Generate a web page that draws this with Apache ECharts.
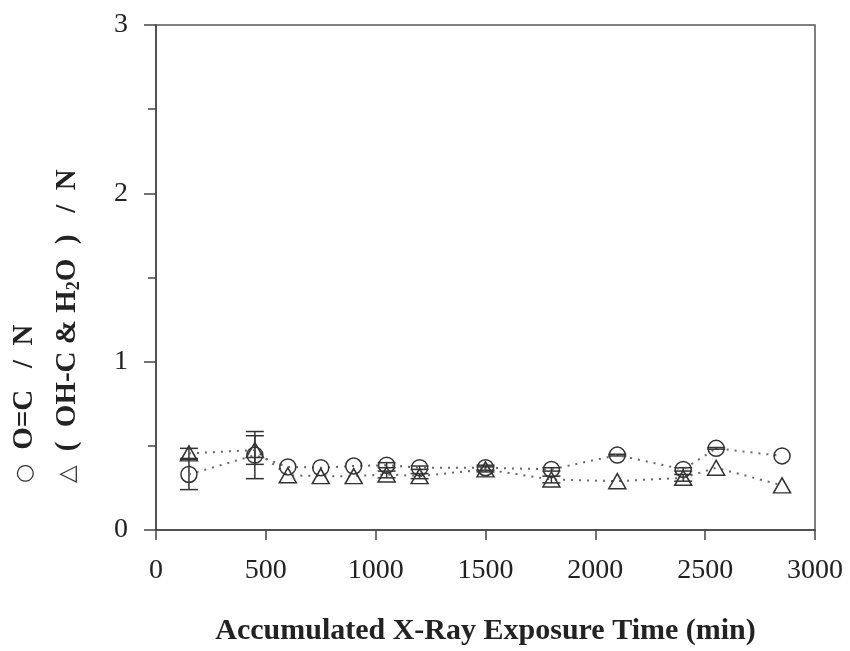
<!DOCTYPE html>
<html>
<head>
<meta charset="utf-8">
<script src="https://cdn.jsdelivr.net/npm/echarts@6/dist/echarts.min.js"></script>
<style>html,body{margin:0;padding:0;background:#fff;}#c{width:850px;height:651px;}</style>
</head>
<body>
<div id="c"></div>
<script>
var times = [150, 450, 600, 750, 900, 1050, 1200, 1500, 1800, 2100, 2400, 2550, 2850];
var ocN = [0.33, 0.445, 0.375, 0.37, 0.38, 0.385, 0.37, 0.37, 0.36, 0.445, 0.36, 0.485, 0.44];
var ocErr = [0.09, 0.14, 0, 0, 0, 0.015, 0.01, 0.015, 0.01, 0.005, 0.01, 0.005, 0];
var ohN = [0.455, 0.475, 0.325, 0.32, 0.32, 0.33, 0.32, 0.36, 0.30, 0.29, 0.31, 0.37, 0.265];
var ohErr = [0.03, 0.085, 0, 0, 0, 0.02, 0.015, 0.015, 0.02, 0, 0.02, 0, 0];
var xTicks = [0, 500, 1000, 1500, 2000, 2500, 3000];
var yTicks = [0, 1, 2, 3];

var font = 'Liberation Serif';
var ink = '#333';

function pairs(xs, ys) { return xs.map(function (x, i) { return [x, ys[i]]; }); }
function errData(xs, ys, es) {
  var out = [];
  xs.forEach(function (x, i) { if (es[i] > 0) out.push([x, ys[i] - es[i], ys[i] + es[i]]); });
  return out;
}
function errRender(params, api) {
  var x = api.value(0);
  var lo = api.coord([x, api.value(1)]);
  var hi = api.coord([x, api.value(2)]);
  var w = 9;
  var st = { stroke: ink, lineWidth: 1.5, fill: null };
  return {
    type: 'group',
    children: [
      { type: 'line', shape: { x1: lo[0], y1: lo[1], x2: hi[0], y2: hi[1] }, style: st },
      { type: 'line', shape: { x1: lo[0] - w, y1: lo[1], x2: lo[0] + w, y2: lo[1] }, style: st },
      { type: 'line', shape: { x1: hi[0] - w, y1: hi[1], x2: hi[0] + w, y2: hi[1] }, style: st }
    ]
  };
}

var chart = echarts.init(document.getElementById('c'));
chart.setOption({
  animation: false,
  backgroundColor: '#fff',
  grid: { left: 156, right: 35, top: 25, bottom: 120, show: true, borderColor: '#555', borderWidth: 1.5, backgroundColor: 'transparent' },
  xAxis: {
    type: 'value', min: xTicks[0], max: xTicks[xTicks.length - 1], interval: 500,
    axisLine: { show: true, lineStyle: { color: '#444', width: 1.5 } },
    axisTick: { show: true, length: 10, lineStyle: { color: '#444', width: 1.5 } },
    splitLine: { show: false },
    axisLabel: { fontFamily: font, fontSize: 28, color: '#222', margin: 27, formatter: function (v) { return String(v); } },
    name: 'Accumulated X-Ray Exposure Time (min)',
    nameLocation: 'middle', nameGap: 86,
    nameTextStyle: { fontFamily: font, fontSize: 30, fontWeight: 'bold', color: '#222' }
  },
  yAxis: {
    type: 'value', min: yTicks[0], max: yTicks[yTicks.length - 1], interval: 1,
    axisLine: { show: true, lineStyle: { color: '#444', width: 1.5 } },
    axisTick: { show: true, length: 12, lineStyle: { color: '#444', width: 1.5 } },
    minorTick: { show: true, splitNumber: 2, length: 8, lineStyle: { color: '#444', width: 1.5 } },
    splitLine: { show: false },
    minorSplitLine: { show: false },
    axisLabel: { fontFamily: font, fontSize: 28, color: '#222', margin: 28, formatter: function (v) { return String(v); } }
  },
  graphic: [
    {
      type: 'text', x: 25, y: 483, rotation: Math.PI / 2,
      style: {
        text: '{s|○}{b|O=C   /  N}',
        verticalAlign: 'middle', align: 'left',
        rich: {
          s: { fontFamily: 'DejaVu Sans', fontSize: 22, fill: '#333', padding: [0, 14, 0, 0] },
          b: { fontFamily: font, fontSize: 29, fontWeight: 'bold', fill: '#222' }
        }
      }
    },
    {
      type: 'text', x: 68, y: 483, rotation: Math.PI / 2,
      style: {
        text: '{s|△}{b|(  OH-C & H}{sub|2}{b|O  )   /  N}',
        verticalAlign: 'middle', align: 'left',
        rich: {
          s: { fontFamily: 'DejaVu Sans', fontSize: 23, fill: '#333', padding: [0, 14, 0, 0] },
          b: { fontFamily: font, fontSize: 29, fontWeight: 'bold', fill: '#222' },
          sub: { fontFamily: font, fontSize: 18, fontWeight: 'bold', fill: '#222', padding: [13, 0, 0, 0] }
        }
      }
    }
  ],
  series: [
    {
      type: 'custom', renderItem: errRender, data: errData(times, ocN, ocErr), z: 3,
      encode: { x: 0, y: [1, 2] }
    },
    {
      type: 'custom', renderItem: errRender, data: errData(times, ohN, ohErr), z: 3,
      encode: { x: 0, y: [1, 2] }
    },
    {
      name: 'O=C / N', type: 'line', data: pairs(times, ocN),
      symbol: 'circle', symbolSize: 16, showAllSymbol: true,
      lineStyle: { type: [2, 6], width: 2, color: '#666' },
      itemStyle: { color: 'rgba(0,0,0,0)', borderColor: ink, borderWidth: 1.5 },
      z: 4
    },
    {
      name: '( OH-C & H2O ) / N', type: 'line', data: pairs(times, ohN),
      symbol: 'triangle', symbolSize: [17, 15], showAllSymbol: true,
      lineStyle: { type: [2, 6], width: 2, color: '#666' },
      itemStyle: { color: 'rgba(0,0,0,0)', borderColor: ink, borderWidth: 1.5 },
      z: 4
    }
  ]
});
</script>
</body>
</html>
